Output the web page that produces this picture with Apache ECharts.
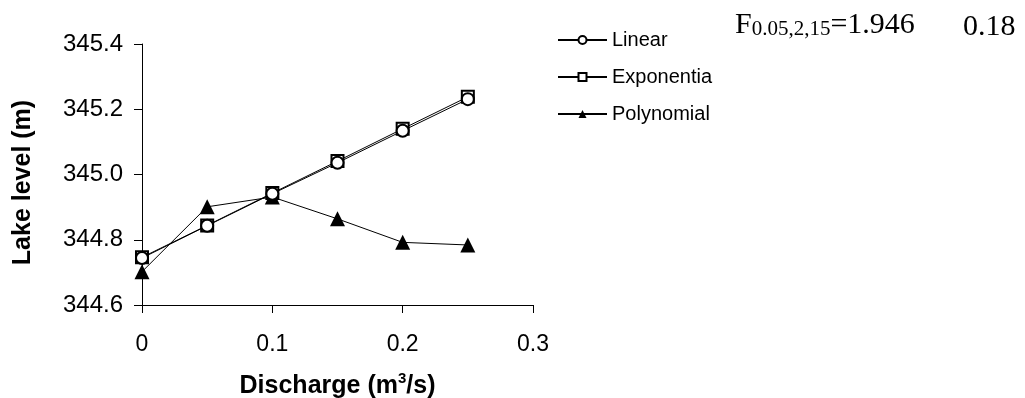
<!DOCTYPE html>
<html><head><meta charset="utf-8">
<script src="https://cdn.jsdelivr.net/npm/echarts@6/dist/echarts.min.js"></script>
<style>html,body{margin:0;padding:0;background:#fff}#c{width:1025px;height:398px}</style>
</head><body><div id="c"></div>
<script>
const discharge = [0, 0.05, 0.1, 0.15, 0.2, 0.25];
const linearVals = [344.744, 344.843, 344.941, 345.036, 345.134, 345.231];
const exponentialVals = [344.746, 344.844, 344.943, 345.041, 345.140, 345.238];
const polynomialVals = [344.702, 344.901, 344.931, 344.864, 344.792, 344.784];
const seriesNames = ['Linear', 'Exponentia', 'Polynomial'];
const annotation = {F: 'F', sub: '0.05,2,15', eq: '=1.946', val: '0.18'};

const pair = (xs, ys) => xs.map((x, i) => [x, ys[i]]);
const chart = echarts.init(document.getElementById('c'));
const lineStyle = {color: '#000', width: 1};
chart.setOption({
  animation: false,
  backgroundColor: '#fff',
  grid: {left: 142, top: 44, width: 391, height: 261, containLabel: false, outerBoundsMode: 'none'},
  xAxis: {
    type: 'value', min: 0, max: 0.3, interval: 0.1,
    axisLine: {lineStyle: {color: '#000', width: 1}},
    axisTick: {length: 8, lineStyle: {color: '#000'}},
    splitLine: {show: false},
    axisLabel: {color: '#000', fontFamily: 'Liberation Sans', fontSize: 23, margin: 28,
      formatter: v => v === 0 ? '0' : String(Math.round(v * 10) / 10)},
    name: '{b|Discharge (m}{s|3}{b|/s)}', nameLocation: 'middle', nameGap: 66,
    nameTextStyle: {rich: {
      b: {fontFamily: 'Liberation Sans', fontWeight: 'bold', fontSize: 25, color: '#000', verticalAlign: 'bottom', lineHeight: 28},
      s: {fontFamily: 'Liberation Sans', fontWeight: 'bold', fontSize: 15, color: '#000', verticalAlign: 'top', padding: [0, 0, 12, 0], lineHeight: 28}
    }}
  },
  yAxis: {
    type: 'value', min: 344.6, max: 345.4, interval: 0.2,
    axisLine: {show: true, lineStyle: {color: '#000', width: 1}},
    axisTick: {show: true, length: 8, lineStyle: {color: '#000'}},
    splitLine: {show: false},
    axisLabel: {color: '#000', fontFamily: 'Liberation Sans', fontSize: 24, margin: 19,
      formatter: v => v.toFixed(1)},
    name: 'Lake level (m)', nameLocation: 'middle', nameGap: 106,
    nameTextStyle: {fontFamily: 'Liberation Sans', fontWeight: 'bold', fontSize: 25, color: '#000', padding: [0, 16, 0, 0]}
  },
  legend: {
    orient: 'vertical', left: 557, top: 30, padding: 0, itemWidth: 49, itemHeight: 10, itemGap: 17,
    textStyle: {fontFamily: 'Liberation Sans', fontSize: 20, color: '#000'},
    data: seriesNames
  },
  graphic: [{
    type: 'text', left: 735, top: 10,
    style: {
      text: '{F|' + annotation.F + '}{sub|' + annotation.sub + '}{F|' + annotation.eq + '}',
      rich: {
        F: {fontFamily: 'Liberation Serif', fontSize: 30, fill: '#000', verticalAlign: 'bottom', lineHeight: 34},
        sub: {fontFamily: 'Liberation Serif', fontSize: 21, fill: '#000', verticalAlign: 'bottom', lineHeight: 24}
      }
    }
  }, {
    type: 'text', left: 963, top: 10,
    style: {text: annotation.val, fontFamily: 'Liberation Serif', fontSize: 30, fill: '#000', lineHeight: 34}
  }],
  series: [{
    name: seriesNames[0], type: 'line', data: pair(discharge, linearVals), z: 4,
    symbol: 'circle', symbolSize: 12, lineStyle,
    itemStyle: {color: '#fff', borderColor: '#000', borderWidth: 2}
  }, {
    name: seriesNames[1], type: 'line', data: pair(discharge, exponentialVals), z: 3,
    symbol: 'rect', symbolSize: 12, lineStyle,
    itemStyle: {color: '#fff', borderColor: '#000', borderWidth: 2}
  }, {
    name: seriesNames[2], type: 'line', data: pair(discharge, polynomialVals), z: 2,
    symbol: 'triangle', symbolSize: 15, lineStyle,
    itemStyle: {color: '#000', borderColor: '#000', borderWidth: 0}
  }]
});
</script></body></html>
